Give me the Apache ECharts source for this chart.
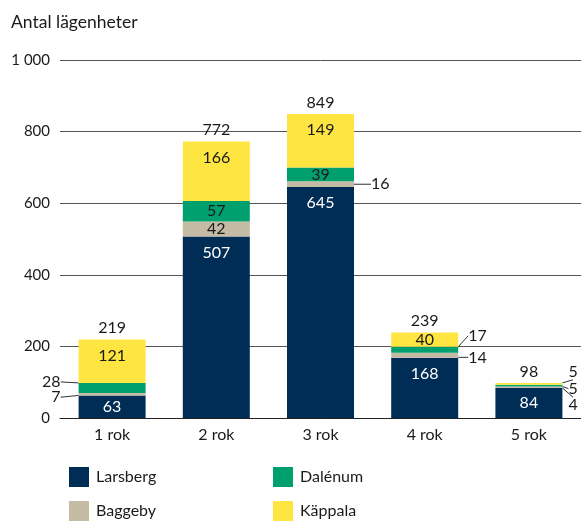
<!DOCTYPE html>
<html lang="sv">
<head>
<meta charset="UTF-8">
<title>Antal lägenheter</title>
<script src="https://cdn.jsdelivr.net/npm/echarts@6/dist/echarts.min.js"></script>
<style>
    html, body { margin: 0; padding: 0; background: #fff; }
    #chart { width: 581px; height: 521px; }
</style>
</head>
<body>
<div id="chart"></div>
<script>
var categories = ['1 rok', '2 rok', '3 rok', '4 rok', '5 rok'];
var larsberg = [63, 507, 645, 168, 84];
var baggeby = [7, 42, 16, 14, 4];
var dalenum = [28, 57, 39, 17, 5];
var kappala = [121, 166, 149, 40, 5];
var yTicks = [0, 200, 400, 600, 800, 1000];

// small segments labelled beside the bar: [series, category, side, gap, vertical shift]
var sideLabels = [
    ['Baggeby', 0, 'left', 18, 3],
    ['Dalénum', 0, 'left', 18, -6],
    ['Baggeby', 2, 'right', 17, 0],
    ['Baggeby', 3, 'right', 10, 2],
    ['Dalénum', 3, 'right', 10, -14],
    ['Baggeby', 4, 'right', 6, 18],
    ['Dalénum', 4, 'right', 6, 3],
    ['Käppala', 4, 'right', 6, -12]
];

var FONT = 'Lato, "Noto Sans", sans-serif';
var totals = categories.map(function (c, i) {
    return larsberg[i] + baggeby[i] + dalenum[i] + kappala[i];
});

function findSide(name, idx) {
    for (var k = 0; k < sideLabels.length; k++) {
        if (sideLabels[k][0] === name && sideLabels[k][1] === idx) return sideLabels[k];
    }
    return null;
}

function makeSeries(name, values, color, textColor) {
    return {
        name: name,
        type: 'bar',
        stack: 'all',
        barWidth: 67,
        itemStyle: { color: color },
        label: {
            show: true,
            position: 'inside',
            color: textColor,
            fontFamily: FONT,
            fontSize: 16
        },
        labelLayout: function (p) {
            var s = findSide(name, p.dataIndex);
            if (!s) return {};
            var r = p.rect;
            return {
                x: s[2] === 'left' ? r.x - s[3] : r.x + r.width + s[3],
                y: r.y + r.height / 2 + s[4],
                align: s[2] === 'left' ? 'right' : 'left',
                verticalAlign: 'middle'
            };
        },
        data: values.map(function (v, i) {
            if (findSide(name, i)) {
                return {
                    value: v,
                    label: { color: '#1a1a1a' },
                    labelLine: { show: true, lineStyle: { color: '#333', width: 1 } }
                };
            }
            // tall segments carry their label near the top
            if (v >= 100) {
                return { value: v, label: { position: 'insideTop', distance: 8 } };
            }
            return v;
        })
    };
}

function legendBox(names, left) {
    return {
        data: names,
        orient: 'vertical',
        left: left, top: 462, height: 80,
        icon: 'rect', itemWidth: 20, itemHeight: 20, itemGap: 14,
        textStyle: { fontFamily: FONT, fontSize: 16, color: '#1a1a1a', padding: [0, 0, 0, 2] }
    };
}

var chart = echarts.init(document.getElementById('chart'));
chart.setOption({
    backgroundColor: '#fff',
    animation: false,
    title: {
        text: 'Antal lägenheter',
        left: 6,
        top: 8,
        textStyle: { fontFamily: FONT, fontSize: 17.5, fontWeight: 'normal', color: '#1a1a1a' }
    },
    grid: { left: 60, right: 0, top: 60, bottom: 103, containLabel: false },
    legend: [legendBox(['Larsberg', 'Baggeby'], 64), legendBox(['Dalénum', 'Käppala'], 268)],
    xAxis: {
        type: 'category',
        data: categories,
        axisLine: { lineStyle: { color: '#222', width: 1 } },
        axisTick: { show: false },
        axisLabel: { fontFamily: FONT, fontSize: 16, color: '#1a1a1a', margin: 9 }
    },
    yAxis: {
        type: 'value',
        min: yTicks[0],
        max: yTicks[yTicks.length - 1],
        interval: yTicks[1] - yTicks[0],
        axisLine: { show: false },
        axisTick: { show: false },
        splitLine: { lineStyle: { color: '#555', width: 1 } },
        axisLabel: {
            fontFamily: FONT, fontSize: 15, color: '#1a1a1a', margin: 10,
            formatter: function (v) { return v >= 1000 ? String(v).replace(/(\d)(\d{3})$/, '$1 $2') : String(v); }
        }
    },
    series: [
        makeSeries('Larsberg', larsberg, '#002d55', '#fff'),
        makeSeries('Baggeby', baggeby, '#c4bba5', '#1a1a1a'),
        makeSeries('Dalénum', dalenum, '#00a06e', '#1a1a1a'),
        makeSeries('Käppala', kappala, '#ffe542', '#1a1a1a'),
        {
            name: 'Totalt',
            type: 'scatter',
            symbolSize: 1,
            itemStyle: { color: 'rgba(0,0,0,0)', opacity: 1 },
            label: {
                show: true,
                position: 'top',
                distance: 3,
                color: '#1a1a1a',
                fontFamily: FONT,
                fontSize: 16
            },
            data: totals
        }
    ]
});
</script>
</body>
</html>
